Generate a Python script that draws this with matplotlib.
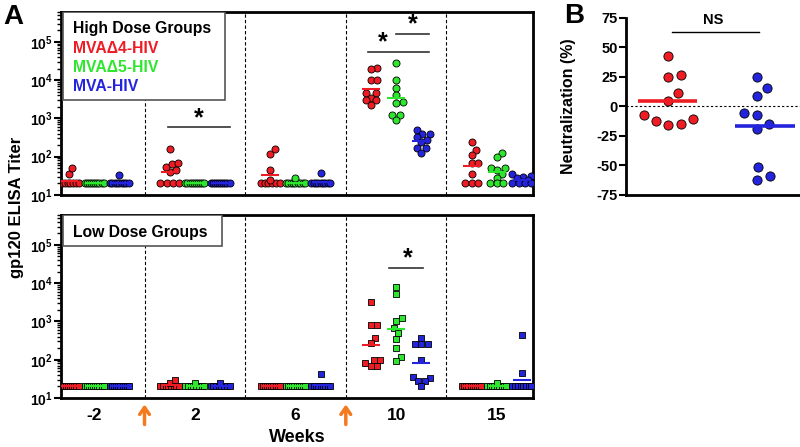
import numpy as np
import matplotlib.pyplot as plt
from matplotlib.patches import Rectangle
from matplotlib.ticker import LogLocator, NullFormatter

plt.rcParams['font.family'] = ['Liberation Sans', 'DejaVu Sans']
plt.rcParams['font.weight'] = 'bold'
plt.rcParams['axes.labelweight'] = 'bold'
plt.rcParams['mathtext.fontset'] = 'custom'
plt.rcParams['mathtext.bf'] = 'Liberation Sans:bold'
plt.rcParams['mathtext.rm'] = 'Liberation Sans:bold'

weeks = ['-2', '2', '6', '10', '15']
groups = ['MVA\u03944-HIV', 'MVA\u03945-HIV', 'MVA-HIV']

# high dose titers, one list per week
hi_d4 = [[20, 20, 20, 20, 20, 20, 20, 20, 35, 50],
         [20, 20, 20, 20, 40, 45, 55, 65, 70, 155],
         [20, 20, 20, 20, 20, 20, 25, 45, 120, 155],
         [21000, 19000, 10000, 10000, 4500, 4500, 3500, 3000, 3000, 2300],
         [240, 150, 110, 68, 68, 35, 20, 20, 20]]
hi_d5 = [[20] * 10,
         [20] * 10,
         [20, 20, 20, 20, 20, 20, 20, 20, 20, 28],
         [28000, 10000, 6300, 4000, 2600, 2500, 1260, 1260, 930],
         [125, 100, 50, 50, 45, 35, 28, 20, 20, 20]]
hi_mva = [[20, 20, 20, 20, 20, 20, 20, 20, 20, 33],
          [20] * 10,
          [20, 20, 20, 20, 20, 20, 20, 20, 20, 38],
          [510, 400, 400, 320, 280, 240, 165, 165, 125],
          [35, 32, 30, 28, 25, 22, 20, 20, 20, 20]]

# low dose titers
lo_d4 = [[20] * 10,
         [20, 20, 20, 20, 20, 20, 20, 20, 25, 30],
         [20] * 10,
         [3300, 800, 800, 380, 280, 100, 100, 80, 70, 70],
         [20] * 10]
lo_d5 = [[20] * 10,
         [20, 20, 20, 20, 20, 20, 20, 20, 25],
         [20] * 10,
         [8000, 5300, 1200, 1000, 660, 490, 340, 200, 115, 90],
         [20, 20, 20, 20, 20, 20, 20, 20, 20, 25]]
lo_mva = [[20] * 10,
          [20, 20, 20, 20, 20, 20, 20, 20, 25],
          [20, 20, 20, 20, 20, 20, 20, 20, 20, 42],
          [380, 260, 250, 250, 100, 35, 33, 28, 28, 20],
          [20, 20, 20, 20, 20, 20, 20, 20, 45, 430]]

# neutralization (%)
nt_d4 = [43, 25, 27, 11, 4.5, -7.6, -12, -10.5, -16, -14.7]
nt_mva = [25, 16, 8.5, -7, -5.6, -15, -19, -51, -59, -62]

red = '#ee1c24'
green = '#2fe62f'
blue = '#2424dc'
colors = [red, green, blue]
orange = '#f47a20'


def swarm(ax, xc, vals, d, wmax):
    # beeswarm in pixel space; rows of >=3 equal values are spread evenly
    vals = np.asarray(vals, dtype=float)
    pts = ax.transData.transform(np.column_stack([np.full(len(vals), xc), vals]))
    x0 = pts[0, 0]
    ys = pts[:, 1]
    offs = np.zeros(len(vals))
    free = np.ones(len(vals), dtype=bool)
    for v in np.unique(vals):
        idx = np.where(vals == v)[0]
        if len(idx) >= 3:
            half = min(wmax, (len(idx) - 1) * d / 2)
            offs[idx] = np.linspace(-half, half, len(idx))
            free[idx] = False
    placed = []
    grid = np.arange(-wmax, wmax + 0.01, 0.5)
    for i in np.argsort(ys, kind='stable'):
        if not free[i]:
            continue
        y = ys[i]
        cands = [0.0]
        for px, py in placed:
            dy = abs(py - y)
            if dy < d:
                dx = np.sqrt(d * d - dy * dy)
                cands += [px + dx, px - dx]
        cands = [c for c in cands if abs(c) <= wmax]
        cands.sort(key=abs)
        pick = None
        for c in cands:
            if all((c - px) ** 2 + (y - py) ** 2 >= d * d - 1e-6 for px, py in placed):
                pick = c
                break
        if pick is None:
            dist = [min((g - px) ** 2 + (y - py) ** 2 for px, py in placed) for g in grid]
            pick = grid[int(np.argmax(dist))]
        offs[i] = pick
        placed.append((pick, y))
    back = ax.transData.inverted().transform(np.column_stack([x0 + offs, ys]))
    return back[:, 0]


fig = plt.figure(figsize=(8, 4.47), dpi=100)
ax_hi = fig.add_axes([0.07625, 0.5638, 0.59, 0.4094])
ax_lo = fig.add_axes([0.07625, 0.1096, 0.59, 0.4094])
ax_b = fig.add_axes([0.7825, 0.5638, 0.2175, 0.396])

ylabs = [r'$\mathbf{10^{%d}}$' % k for k in range(1, 6)]
for ax in [ax_hi, ax_lo]:
    ax.set_yscale('log')
    ax.set_ylim(10, 6e5)
    ax.set_xlim(-0.33, 4.36)
    for s in ax.spines.values():
        s.set_linewidth(2)
    ax.set_yticks([1e1, 1e2, 1e3, 1e4, 1e5])
    ax.set_yticklabels(ylabs, fontsize=10)
    ax.yaxis.set_minor_locator(LogLocator(base=10, subs=np.arange(2, 10)))
    ax.yaxis.set_minor_formatter(NullFormatter())
    ax.tick_params(axis='y', which='major', direction='out', length=5, width=1.5, pad=1)
    ax.tick_params(axis='y', which='minor', direction='out', length=3, width=1)
    for xd in [0.5, 1.5, 2.5, 3.5]:
        ax.axvline(xd, color='k', ls=(0, (3, 2)), lw=0.8, zorder=1)

ax_hi.set_xticks([])
ax_lo.set_xticks(range(5))
ax_lo.set_xticklabels(weeks, fontsize=12.5)
ax_lo.tick_params(axis='x', length=0, pad=7)

offsets = [-0.25, 0, 0.25]
for ax, data, mk, size in [(ax_hi, [hi_d4, hi_d5, hi_mva], 'o', 26),
                           (ax_lo, [lo_d4, lo_d5, lo_mva], 's', 24)]:
    for g, series in enumerate(data):
        for w, vals in enumerate(series):
            xc = w + offsets[g]
            xs = swarm(ax, xc, vals, 6.5, 9.5)
            ax.scatter(xs, vals, s=size, marker=mk, color=colors[g],
                       edgecolor='k', linewidth=0.6, zorder=3)
            gm = 10 ** np.mean(np.log10(vals))
            ax.hlines(gm, xc - 0.09, xc + 0.09, color=colors[g], lw=1.5, zorder=4)

# significance bars
sig_col = '#333333'
ax_hi.plot([0.73, 1.35], [590, 590], color=sig_col, lw=1.2)
ax_hi.text(1.04, 1000, '*', ha='center', va='center', fontsize=18)
ax_hi.plot([2.72, 3.33], [5.5e4, 5.5e4], color=sig_col, lw=1.2)
ax_hi.text(2.87, 9.5e4, '*', ha='center', va='center', fontsize=18)
ax_hi.plot([3.0, 3.33], [1.6e5, 1.6e5], color=sig_col, lw=1.2)
ax_hi.text(3.17, 2.8e5, '*', ha='center', va='center', fontsize=18)
ax_lo.plot([2.93, 3.27], [2.5e4, 2.5e4], color=sig_col, lw=1.2)
ax_lo.text(3.12, 4.4e4, '*', ha='center', va='center', fontsize=18)

# legend boxes
ax_hi.add_patch(Rectangle((0.004, 0.519), 0.343, 0.481, transform=ax_hi.transAxes,
                          fc='white', ec='#555555', lw=1.2, zorder=5))
ax_hi.text(0.025, 0.907, 'High Dose Groups', transform=ax_hi.transAxes,
           fontsize=11.3, va='center', zorder=6)
for k, (name, c) in enumerate(zip(groups, colors)):
    ax_hi.text(0.025, 0.803 - 0.104 * k, name, color=c, transform=ax_hi.transAxes,
               fontsize=11.3, va='center', zorder=6)
ax_lo.add_patch(Rectangle((0.004, 0.831), 0.337, 0.169, transform=ax_lo.transAxes,
                          fc='white', ec='#555555', lw=1.2, zorder=5))
ax_lo.text(0.025, 0.907, 'Low Dose Groups', transform=ax_lo.transAxes,
           fontsize=11.3, va='center', zorder=6)

# immunization arrows
for xd in [0.5, 2.5]:
    ax_lo.annotate('', xy=(xd, -0.02), xytext=(xd, -0.16),
                   xycoords=('data', 'axes fraction'),
                   arrowprops=dict(arrowstyle='->,head_length=0.5,head_width=0.35',
                                   color=orange, lw=2.5),
                   annotation_clip=False)

fig.text(17 / 800, 1 - 207 / 447, 'gp120 ELISA Titer', rotation=90,
         ha='center', va='center', fontsize=12)
fig.text(297 / 800, 1 - 437 / 447, 'Weeks', ha='center', va='center', fontsize=13)
fig.text(13 / 800, 1 - 17 / 447, 'A', ha='center', va='center', fontsize=20)
fig.text(574 / 800, 1 - 16 / 447, 'B', ha='center', va='center', fontsize=20)

# panel B
ax_b.set_xlim(-0.47, 1.48)
ax_b.set_ylim(-75, 75)
ax_b.spines['top'].set_visible(False)
ax_b.spines['right'].set_visible(False)
ax_b.spines['left'].set_linewidth(2)
ax_b.spines['bottom'].set_linewidth(2)
ax_b.set_xticks([])
ax_b.set_yticks(range(-75, 76, 25))
ax_b.set_yticklabels([str(v) for v in range(-75, 76, 25)], fontsize=10.5)
ax_b.tick_params(axis='y', direction='out', length=5, width=1.5, pad=1)
ax_b.axhline(0, color='k', ls=(0, (2, 2)), lw=0.8, zorder=1)
ax_b.set_ylabel('Neutralization (%)', fontsize=11.5)
ax_b.yaxis.set_label_coords(-0.29, 0.5)
for xc, vals, c, (l, r) in [(0, nt_d4, red, (-0.33, 0.33)), (1, nt_mva, blue, (0.75, 1.42))]:
    xs = swarm(ax_b, xc, vals, 13, 25)
    ax_b.scatter(xs, vals, s=44, color=c, edgecolor='k', linewidth=0.6, zorder=3)
    ax_b.hlines(np.mean(vals), l, r, color=c, lw=2.6, zorder=4)
ax_b.plot([0.05, 1.02], [62.7, 62.7], color='k', lw=1, clip_on=False)
ax_b.text(0.51, 73, 'NS', ha='center', va='center', fontsize=10.5, clip_on=False)

fig.savefig('out.png', dpi=100)
